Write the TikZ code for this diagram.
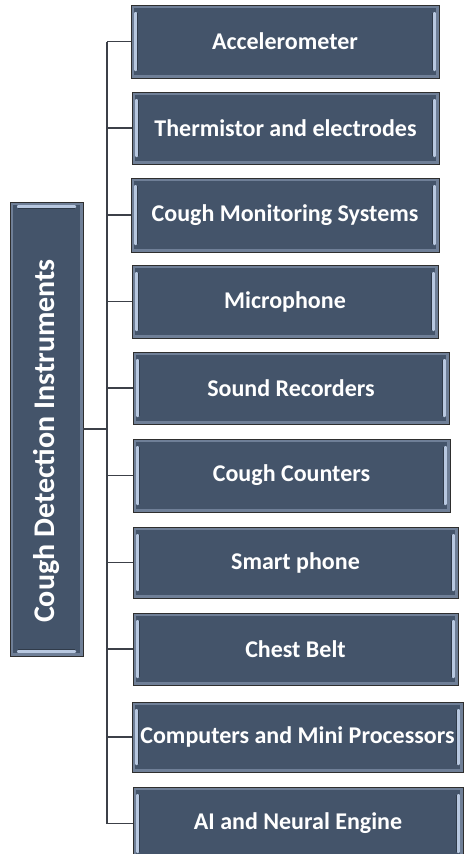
\documentclass[tikz,border=0pt]{standalone}
\usepackage{fontspec}
\setmainfont{Carlito}
\definecolor{rim}{HTML}{6F7F97}
\definecolor{face}{HTML}{44546A}
\definecolor{shine}{HTML}{B8C8E0}
\definecolor{edge}{HTML}{2E2E2E}
\definecolor{wire}{HTML}{3C4048}
\tikzset{
  bevelbase/.style={draw=edge, line width=0.9pt, fill=rim, text=white,
    font=\fontsize{24}{28}\selectfont\bfseries, inner sep=0pt},
  % item box: highlight strips on the left and right inner edges
  itembox/.style={bevelbase, path picture={
    \path (path picture bounding box.south west) coordinate (sw)
          (path picture bounding box.north east) coordinate (ne);
    \fill[face] ([shift={(2.6pt,2.6pt)}]sw) rectangle ([shift={(-2.6pt,-2.6pt)}]ne);
    \fill[shine, rounded corners=1pt] ([shift={(3.2pt,7pt)}]sw) rectangle ([shift={(6pt,-7pt)}]sw |- ne);
    \draw[face!70!black, line width=0.5pt] ([shift={(6.6pt,8pt)}]sw) -- ([shift={(6.6pt,-8pt)}]sw |- ne);
    \fill[shine, rounded corners=1pt] ([shift={(-6pt,7pt)}]ne |- sw) rectangle ([shift={(-3.2pt,-7pt)}]ne);
    \draw[face!70!black, line width=0.5pt] ([shift={(-6.6pt,8pt)}]ne |- sw) -- ([shift={(-6.6pt,-8pt)}]ne);
  }},
  % root box: highlight strips along the top and bottom inner edges
  rootbox/.style={bevelbase, font=\fontsize{30}{34}\selectfont\bfseries, path picture={
    \path (path picture bounding box.south west) coordinate (sw)
          (path picture bounding box.north east) coordinate (ne);
    \fill[face] ([shift={(2.6pt,2.6pt)}]sw) rectangle ([shift={(-2.6pt,-2.6pt)}]ne);
    \fill[shine, rounded corners=1pt] ([shift={(7pt,-6pt)}]sw |- ne) rectangle ([shift={(-7pt,-3.2pt)}]ne);
    \draw[face!70!black, line width=0.5pt] ([shift={(8pt,-6.6pt)}]sw |- ne) -- ([shift={(-8pt,-6.6pt)}]ne);
    \fill[shine, rounded corners=1pt] ([shift={(7pt,3.2pt)}]sw) rectangle ([shift={(-7pt,6pt)}]ne |- sw);
    \draw[face!70!black, line width=0.5pt] ([shift={(8pt,6.6pt)}]sw) -- ([shift={(-8pt,6.6pt)}]ne |- sw);
  }},
  wirestyle/.style={draw=wire, line width=1.2pt}
}
\newcommand{\itemat}[6]{% name, x0, x1, y0, y1, text
  \node[itembox, minimum width={(#3-#2)*1pt}, minimum height={(#5-#4)*1pt}]
    (#1) at ({(#2+#3)/2},{(#4+#5)/2}) {#6};}
\begin{document}
\begin{tikzpicture}[x=1pt, y=-1pt]
  \useasboundingbox[fill=white] (0,0) rectangle (465,854);
  \node[rootbox, minimum width=73pt, minimum height=454pt] (root) at (46.5,429)
    {\rotatebox{90}{\hspace*{-24pt}Cough Detection Instruments}};
  \itemat{b1}{131}{439}{5}{78}{Accelerometer}
  \itemat{b2}{132}{439}{92}{164}{Thermistor and electrodes}
  \itemat{b3}{131}{439}{178}{252}{Cough Monitoring Systems}
  \itemat{b4}{132}{438}{265}{338}{Microphone}
  \itemat{b5}{133}{449}{352}{424}{Sound Recorders}
  \itemat{b6}{133}{450}{439}{512}{Cough Counters}
  \itemat{b7}{133}{458}{527}{598}{Smart phone}
  \itemat{b8}{133}{458}{613}{685}{Chest Belt}
  \itemat{b9}{132}{463}{702}{772}{Computers and Mini Processors}
  \itemat{b10}{133}{463}{787}{860}{AI and Neural Engine}
  % trunk line and branches
  \coordinate (trunk) at (107,0);
  \draw[wirestyle] (root.east) -- (root.east -| trunk);
  \draw[wirestyle] (b1.west -| trunk) -- (b10.west -| trunk);
  \foreach \b in {b1,b2,b3,b4,b5,b6,b7,b8,b9,b10}
    \draw[wirestyle] (\b.west -| trunk) -- (\b.west);
\end{tikzpicture}
\end{document}
